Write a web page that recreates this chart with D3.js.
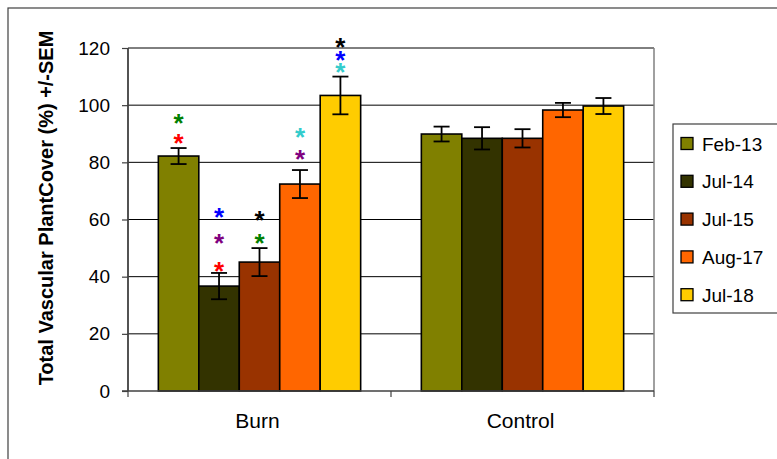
<!DOCTYPE html>
<html>
<head>
<meta charset="utf-8">
<script src="https://cdn.jsdelivr.net/npm/d3@7/dist/d3.min.js"></script>
<style>
  html,body{margin:0;padding:0;background:#fff;}
  svg{display:block;font-family:"Liberation Sans",Arial,sans-serif;}
</style>
</head>
<body>
<div id="chart"></div>
<script>
/* data */
var groups = ["Burn", "Control"];
var series = ["Feb-13", "Jul-14", "Jul-15", "Aug-17", "Jul-18"];
var seriesColors = ["#808000", "#333300", "#993300", "#FF6600", "#FFCC00"];
var burnMeans = [82.2, 36.7, 45.1, 72.4, 103.4];
var burnSem = [2.8, 4.6, 4.9, 4.9, 6.6];
var controlMeans = [89.9, 88.4, 88.4, 98.3, 99.7];
var controlSem = [2.6, 3.9, 3.2, 2.5, 2.8];
var yTicks = [0, 20, 40, 60, 80, 100, 120];

/* significance asterisks over the Burn bars (bottom to top), y in % units */
var starColors = [
  ["#FF0000", "#008000"],
  ["#FF0000", "#800080", "#0000FF"],
  ["#008000", "#000000"],
  ["#800080", "#33CCCC"],
  ["#33CCCC", "#0000FF", "#000000"]
];
var starLevels = [
  [89.0, 96.0],
  [44.1, 54.0, 63.1],
  [54.0, 61.9],
  [83.4, 91.1],
  [113.7, 117.8, 122.6]
];

var W = 777, H = 459;
var plot = {left: 128, right: 654, top: 48, bottom: 391};

var svg = d3.select("#chart").append("svg").attr("width", W).attr("height", H);

/* outer chart frame (runs off the right and bottom) */
svg.append("rect").attr("x", 8).attr("y", 8).attr("width", 800).attr("height", 480)
  .attr("fill", "none").attr("stroke", "#404040").attr("stroke-width", 1.2);

var x0 = d3.scaleBand().domain(groups).range([plot.left, plot.right]).paddingInner(0).paddingOuter(0);
var x1 = d3.scaleBand().domain(series).range([0, x0.bandwidth()]).paddingInner(0).paddingOuter(0.75);
var y = d3.scaleLinear().domain([0, 120]).range([plot.bottom, plot.top]);

var rows = [];
groups.forEach(function(g, gi){
  var means = gi === 0 ? burnMeans : controlMeans;
  var sem = gi === 0 ? burnSem : controlSem;
  series.forEach(function(s, si){
    rows.push({group: g, series: s, color: seriesColors[si], mean: means[si], sem: sem[si]});
  });
});

/* gridlines */
svg.append("g").selectAll("line").data(yTicks.filter(function(t){return t > 0;})).enter().append("line")
  .attr("x1", plot.left).attr("x2", plot.right)
  .attr("y1", function(d){return y(d);}).attr("y2", function(d){return y(d);})
  .attr("stroke", "#000").attr("stroke-width", 1);

/* plot area right edge */
svg.append("line").attr("x1", plot.right).attr("x2", plot.right).attr("y1", plot.top).attr("y2", plot.bottom)
  .attr("stroke", "#808080").attr("stroke-width", 1.5);

/* bars */
svg.append("g").selectAll("rect").data(rows).enter().append("rect")
  .attr("x", function(d){return x0(d.group) + x1(d.series);})
  .attr("y", function(d){return y(d.mean);})
  .attr("width", x1.bandwidth())
  .attr("height", function(d){return y(0) - y(d.mean);})
  .attr("fill", function(d){return d.color;})
  .attr("stroke", "#000").attr("stroke-width", 1.6);

/* error bars */
var eb = svg.append("g").attr("stroke", "#000").attr("stroke-width", 1.8);
rows.forEach(function(d){
  var cx = x0(d.group) + x1(d.series) + x1.bandwidth() / 2;
  var hi = y(d.mean + d.sem), lo = y(d.mean - d.sem);
  eb.append("line").attr("x1", cx).attr("x2", cx).attr("y1", hi).attr("y2", lo);
  eb.append("line").attr("x1", cx - 8).attr("x2", cx + 8).attr("y1", hi).attr("y2", hi);
  eb.append("line").attr("x1", cx - 8).attr("x2", cx + 8).attr("y1", lo).attr("y2", lo);
});

/* asterisks */
var stars = [];
starColors.forEach(function(cols, si){
  cols.forEach(function(c, k){ stars.push({series: series[si], color: c, level: starLevels[si][k]}); });
});
svg.append("g").selectAll("text").data(stars).enter().append("text")
  .attr("x", function(d){return x0("Burn") + x1(d.series) + x1.bandwidth() / 2;})
  .attr("y", function(d){return y(d.level) + 15;})
  .attr("text-anchor", "middle")
  .attr("font-size", 26).attr("font-weight", "bold")
  .attr("fill", function(d){return d.color;})
  .text("*");

/* y axis */
var yAxis = svg.append("g").attr("transform", "translate(" + plot.left + ",0)")
  .call(d3.axisLeft(y).tickValues(yTicks).tickSize(6).tickPadding(12).tickFormat(d3.format("d")));
yAxis.select(".domain").attr("stroke", "#404040").attr("stroke-width", 1.8).attr("d", "M0," + plot.top + "V" + plot.bottom);
yAxis.selectAll(".tick line").attr("stroke", "#404040").attr("stroke-width", 1.2);
yAxis.selectAll(".tick text").attr("font-size", 19).attr("fill", "#000")
  .attr("font-family", "'Liberation Sans',Arial,sans-serif");

/* x axis: category boundary ticks + centered labels */
var xa = svg.append("g");
xa.append("line").attr("x1", plot.left - 6).attr("x2", plot.right).attr("y1", plot.bottom).attr("y2", plot.bottom)
  .attr("stroke", "#404040").attr("stroke-width", 1.5);
var bounds = groups.map(function(g){return x0(g);}).concat([x0(groups[groups.length - 1]) + x0.bandwidth()]);
xa.selectAll("line.tk").data(bounds).enter().append("line").attr("class", "tk")
  .attr("x1", function(d){return d;}).attr("x2", function(d){return d;})
  .attr("y1", plot.bottom).attr("y2", plot.bottom + 6)
  .attr("stroke", "#404040").attr("stroke-width", 1.2);
xa.selectAll("text").data(groups).enter().append("text")
  .attr("x", function(d){return x0(d) + x0.bandwidth() / 2 - 2;})
  .attr("y", 428).attr("text-anchor", "middle").attr("font-size", 21).attr("fill", "#000")
  .text(function(d){return d;});

/* y title */
svg.append("text").attr("transform", "translate(53,208) rotate(-90)")
  .attr("text-anchor", "middle").attr("font-size", 20).attr("font-weight", "bold").attr("fill", "#000")
  .text("Total Vascular PlantCover (%) +/-SEM");

/* legend */
var leg = svg.append("g");
leg.append("rect").attr("x", 673).attr("y", 124).attr("width", 140).attr("height", 189)
  .attr("fill", "#fff").attr("stroke", "#404040").attr("stroke-width", 1.2);
var li = leg.selectAll("g.item").data(series).enter().append("g").attr("class", "item")
  .attr("transform", function(d, i){return "translate(0," + (143.5 + i * 37.8) + ")";});
li.append("rect").attr("x", 681).attr("y", -6).attr("width", 12).attr("height", 12)
  .attr("fill", function(d, i){return seriesColors[i];}).attr("stroke", "#000").attr("stroke-width", 1.3);
li.append("text").attr("x", 702).attr("y", 7).attr("font-size", 19).attr("fill", "#000")
  .text(function(d){return d;});
</script>
</body>
</html>
